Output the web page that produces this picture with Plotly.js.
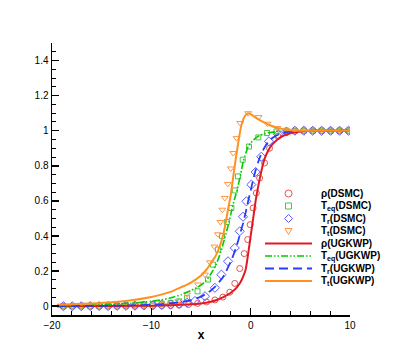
<!DOCTYPE html>
<html>
<head>
<meta charset="utf-8">
<script src="https://cdn.plot.ly/plotly-3.0.1.min.js"></script>
<style>
  html, body { margin: 0; padding: 0; background: #fff; }
  #chart { width: 399px; height: 355px; }
</style>
</head>
<body>
<div id="chart"></div>
<script>
// --- data ---
// UGKWP solution (lines)
const xUGKWP = [-19.5, -18, -16, -14, -12, -10, -9, -8, -7, -6, -5, -4.5, -4, -3.5, -3,
  -2.75, -2.5, -2.25, -2, -1.75, -1.5, -1.25, -1, -0.75, -0.5, -0.25, 0, 0.25, 0.5, 0.75,
  1, 1.25, 1.5, 1.75, 2, 2.5, 3, 3.5, 4, 5, 6, 8, 10];
const rhoUGKWP = [0, 0, 0.001, 0.001, 0.002, 0.003, 0.004, 0.006, 0.008, 0.011, 0.016, 0.02, 0.026, 0.034, 0.046,
  0.052, 0.06, 0.068, 0.077, 0.088, 0.1, 0.118, 0.14, 0.17, 0.21, 0.3, 0.4, 0.5, 0.6, 0.68,
  0.75, 0.81, 0.855, 0.885, 0.91, 0.94, 0.962, 0.976, 0.986, 0.995, 1, 1, 1];
const teqUGKWP = [0.002, 0.003, 0.006, 0.01, 0.017, 0.028, 0.036, 0.048, 0.066, 0.09, 0.12, 0.145, 0.185, 0.235, 0.31,
  0.36, 0.41, 0.465, 0.525, 0.585, 0.635, 0.69, 0.755, 0.825, 0.87, 0.91, 0.93, 0.945, 0.958, 0.968,
  0.975, 0.98, 0.984, 0.988, 0.99, 0.994, 0.997, 0.998, 0.999, 1, 1, 1, 1];
const trUGKWP = [0, 0.001, 0.002, 0.003, 0.005, 0.009, 0.012, 0.017, 0.024, 0.035, 0.055, 0.07, 0.09, 0.115, 0.15,
  0.17, 0.195, 0.225, 0.255, 0.29, 0.33, 0.375, 0.425, 0.475, 0.535, 0.6, 0.66, 0.72, 0.775, 0.82,
  0.86, 0.89, 0.915, 0.935, 0.95, 0.97, 0.982, 0.99, 0.995, 0.999, 1, 1, 1];
const ttUGKWP = [0.008, 0.011, 0.016, 0.023, 0.034, 0.053, 0.066, 0.083, 0.108, 0.135, 0.175, 0.205, 0.245, 0.29, 0.36,
  0.41, 0.48, 0.56, 0.635, 0.74, 0.84, 0.93, 1.015, 1.065, 1.09, 1.1, 1.095, 1.085, 1.075, 1.066,
  1.058, 1.05, 1.043, 1.036, 1.03, 1.02, 1.012, 1.006, 1.003, 1, 1, 1, 1];

// DSMC solution (symbols)
const xRhoDSMC = [-18.85, -17.95, -17.05, -16.15, -15.25, -14.35, -13.45, -12.55, -11.65, -10.75, -9.85, -8.95, -8.05,
  -7.2, -6.25, -5.35, -4.45, -3.6, -2.8, -2.1, -1.6, -1.1, -0.65, -0.3, -0.05, 0.25, 0.57, 0.9, 1.4, 1.9, 2.75, 3.6,
  4.45, 5.35, 6.25, 7.15, 8.05, 8.95, 9.85];
const rhoDSMC = [0, 0, 0, 0, 0, 0, 0, 0.001, 0.001, 0.002, 0.002, 0.003, 0.004,
  0.006, 0.01, 0.016, 0.024, 0.036, 0.052, 0.08, 0.13, 0.215, 0.3, 0.38, 0.465, 0.56, 0.645, 0.73, 0.816, 0.9, 0.968, 0.99,
  0.998, 1, 1, 1, 1, 1, 1];

const xTeqDSMC = [-18.85, -17.95, -17.05, -16.15, -15.25, -14.35, -13.45, -12.55, -11.65, -10.75, -9.85, -8.95, -8.05,
  -7.2, -6.4, -5.35, -4.3, -3.8, -3.3, -2.88, -2.4, -1.94, -1.6, -1.28, -0.8, -0.17, 0.77, 1.64, 2.6, 3.6,
  4.45, 5.35, 6.25, 7.15, 8.05, 8.95, 9.85];
const teqDSMC = [0.001, 0.001, 0.002, 0.002, 0.003, 0.004, 0.005, 0.006, 0.008, 0.01, 0.012, 0.015, 0.019,
  0.028, 0.048, 0.085, 0.152, 0.237, 0.323, 0.4, 0.48, 0.56, 0.66, 0.74, 0.835, 0.91, 0.962, 0.987, 0.996, 1,
  1, 1, 1, 1, 1, 1, 1];

const xTrDSMC = [-18.85, -17.95, -17.05, -16.15, -15.25, -14.35, -13.45, -12.55, -11.65, -10.75, -9.85, -8.95, -8.05,
  -7.2, -6.4, -5.6, -4.6, -3.6, -2.95, -2.28, -1.6, -1.1, -0.77, -0.43, 0.07, 0.5, 1.07, 1.84, 2.75, 3.6,
  4.45, 5.35, 6.25, 7.15, 8.05, 8.95, 9.85];
const trDSMC = [0, 0, 0, 0.001, 0.001, 0.001, 0.002, 0.002, 0.003, 0.004, 0.005, 0.007, 0.01,
  0.014, 0.02, 0.03, 0.057, 0.105, 0.18, 0.256, 0.332, 0.427, 0.51, 0.598, 0.693, 0.765, 0.852, 0.94, 0.98, 0.995,
  1, 1, 1, 1, 1, 1, 1];

const xTtDSMC = [-18.85, -17.95, -17.05, -16.15, -15.25, -14.35, -13.45, -12.55, -11.65, -10.75, -9.85, -8.95, -8.05,
  -7.3, -6.4, -5.3, -4.6, -4.1, -3.65, -3.3, -3.05, -2.85, -2.6, -2.3, -2.0, -1.75, -1.42, -1.05, -0.25, 0.8, 1.7, 2.7, 3.6,
  4.45, 5.35, 6.25, 7.15, 8.05, 8.95, 9.85];
const ttDSMC = [0, 0, 0, 0, 0.001, 0.001, 0.002, 0.003, 0.004, 0.005, 0.007, 0.01, 0.014,
  0.03, 0.067, 0.124, 0.18, 0.25, 0.34, 0.41, 0.48, 0.55, 0.617, 0.697, 0.785, 0.873, 0.958, 1.044, 1.1, 1.078, 1.04, 1.015, 1.003,
  1, 1, 1, 1, 1, 1, 1];

const legendLabels = ['ρ(DSMC)', 'T<sub>eq</sub>(DSMC)', 'T<sub>r</sub>(DSMC)', 'T<sub>t</sub>(DSMC)',
  'ρ(UGKWP)', 'T<sub>eq</sub>(UGKWP)', 'T<sub>r</sub>(UGKWP)', 'T<sub>t</sub>(UGKWP)'];
const xTicks = [-20, -10, 0, 10];
const yTicks = [0, 0.2, 0.4, 0.6, 0.8, 1, 1.2, 1.4];

// --- styles ---
const RED = 'rgb(225,25,35)', GREEN = 'rgb(0,205,0)', BLUE = 'rgb(40,60,255)', ORANGE = 'rgb(255,145,35)';
const RED_M = 'rgb(235,80,80)', GREEN_M = 'rgb(70,200,70)', BLUE_M = 'rgb(90,90,255)', ORANGE_M = 'rgb(255,150,70)';
const DASH_EQ = '7px,2px,1.5px,2px,1.5px,2px';
const DASH_R = '9px,5px';
const FONT = 'Liberation Sans, Arial, Helvetica, sans-serif';

function markers(x, y, symbol, color, size) {
  return { x: x, y: y, type: 'scatter', mode: 'markers', showlegend: false, hoverinfo: 'skip',
    marker: { symbol: symbol, size: size, color: color, line: { color: color, width: 1 } } };
}
function line(y, color, width, dash) {
  return { x: xUGKWP, y: y, type: 'scatter', mode: 'lines', showlegend: false, hoverinfo: 'skip',
    line: { color: color, width: width, dash: dash, shape: 'spline', smoothing: 0.6 } };
}

const traces = [
  markers(xRhoDSMC, rhoDSMC, 'circle-open', RED_M, 6),
  markers(xTeqDSMC, teqDSMC, 'square-open', GREEN_M, 5),
  markers(xTrDSMC, trDSMC, 'diamond-open', BLUE_M, 7),
  markers(xTtDSMC, ttDSMC, 'triangle-down-open', ORANGE_M, 6),
  line(rhoUGKWP, RED, 2, 'solid'),
  line(teqUGKWP, GREEN, 1.6, DASH_EQ),
  line(trUGKWP, BLUE, 1.8, DASH_R),
  line(ttUGKWP, ORANGE, 2, 'solid'),
];

// --- hand-made legend (tecplot style, tight rows) ---
const L = 52, T = 43, W = 298, H = 272;
const px2x = p => (p - L) / W;
const py2y = p => (T + H - p) / H;
const legendStyle = [
  { kind: 'circle', color: RED_M }, { kind: 'square', color: GREEN_M },
  { kind: 'diamond', color: BLUE_M }, { kind: 'tri', color: ORANGE_M },
  { kind: 'line', color: RED, width: 2, dash: 'solid' }, { kind: 'line', color: GREEN, width: 1.6, dash: DASH_EQ },
  { kind: 'line', color: BLUE, width: 1.8, dash: DASH_R }, { kind: 'line', color: ORANGE, width: 2, dash: 'solid' },
];
const shapes = [];
const annotations = [];
legendLabels.forEach((lab, i) => {
  const cy = py2y(193.5 + 12.5 * i);
  const cx = px2x(288.5);
  const st = legendStyle[i];
  const base = { xref: 'paper', yref: 'paper', xsizemode: 'pixel', ysizemode: 'pixel', xanchor: cx, yanchor: cy,
    line: { color: st.color, width: 1 } };
  if (st.kind === 'circle') shapes.push(Object.assign({ type: 'circle', x0: -3.5, x1: 3.5, y0: -3.5, y1: 3.5 }, base));
  if (st.kind === 'square') shapes.push(Object.assign({ type: 'rect', x0: -3, x1: 3, y0: -3, y1: 3 }, base));
  if (st.kind === 'diamond') shapes.push(Object.assign({ type: 'path', path: 'M0,4L4,0L0,-4L-4,0Z' }, base));
  if (st.kind === 'tri') shapes.push(Object.assign({ type: 'path', path: 'M-3.5,2.5L3.5,2.5L0,-3.5Z' }, base));
  if (st.kind === 'line') {
    shapes.push({ type: 'line', xref: 'paper', yref: 'paper', x0: px2x(265), x1: px2x(312), y0: cy, y1: cy,
      line: { color: st.color, width: st.width, dash: st.dash } });
  }
  annotations.push({ xref: 'paper', yref: 'paper', x: px2x(319), y: cy, xanchor: 'left', yanchor: 'middle',
    showarrow: false, text: '<b>' + lab + '</b>', font: { family: FONT, size: 10, color: 'black' } });
});

const layout = {
  width: 399, height: 355,
  margin: { l: L, r: 399 - L - W, t: T, b: 355 - T - H },
  paper_bgcolor: 'white', plot_bgcolor: 'white',
  showlegend: false,
  font: { family: FONT, size: 10, color: 'black' },
  xaxis: {
    range: [-20, 10], tickvals: xTicks, ticks: 'inside', ticklen: 7, tickwidth: 1.5, tickcolor: 'black',
    showline: true, linewidth: 1.5, linecolor: 'black', showgrid: false, zeroline: false,
    minor: { tick0: -20, dtick: 2, ticks: 'inside', ticklen: 4, tickwidth: 1, tickcolor: 'black', showgrid: false },
    tickfont: { family: FONT, size: 10 },
    title: { text: '<b>x</b>', font: { family: FONT, size: 12 }, standoff: 1 },
  },
  yaxis: {
    range: [-0.05, 1.5], tickvals: yTicks, ticks: 'inside', ticklen: 7, tickwidth: 1.5, tickcolor: 'black',
    showline: true, linewidth: 1.5, linecolor: 'black', showgrid: false, zeroline: false,
    minor: { tick0: 0, dtick: 0.05, ticks: 'inside', ticklen: 4, tickwidth: 1, tickcolor: 'black', showgrid: false },
    tickfont: { family: FONT, size: 10 },
  },
  shapes: shapes,
  annotations: annotations,
};

Plotly.newPlot('chart', traces, layout, { displayModeBar: false, staticPlot: true });
</script>
</body>
</html>
